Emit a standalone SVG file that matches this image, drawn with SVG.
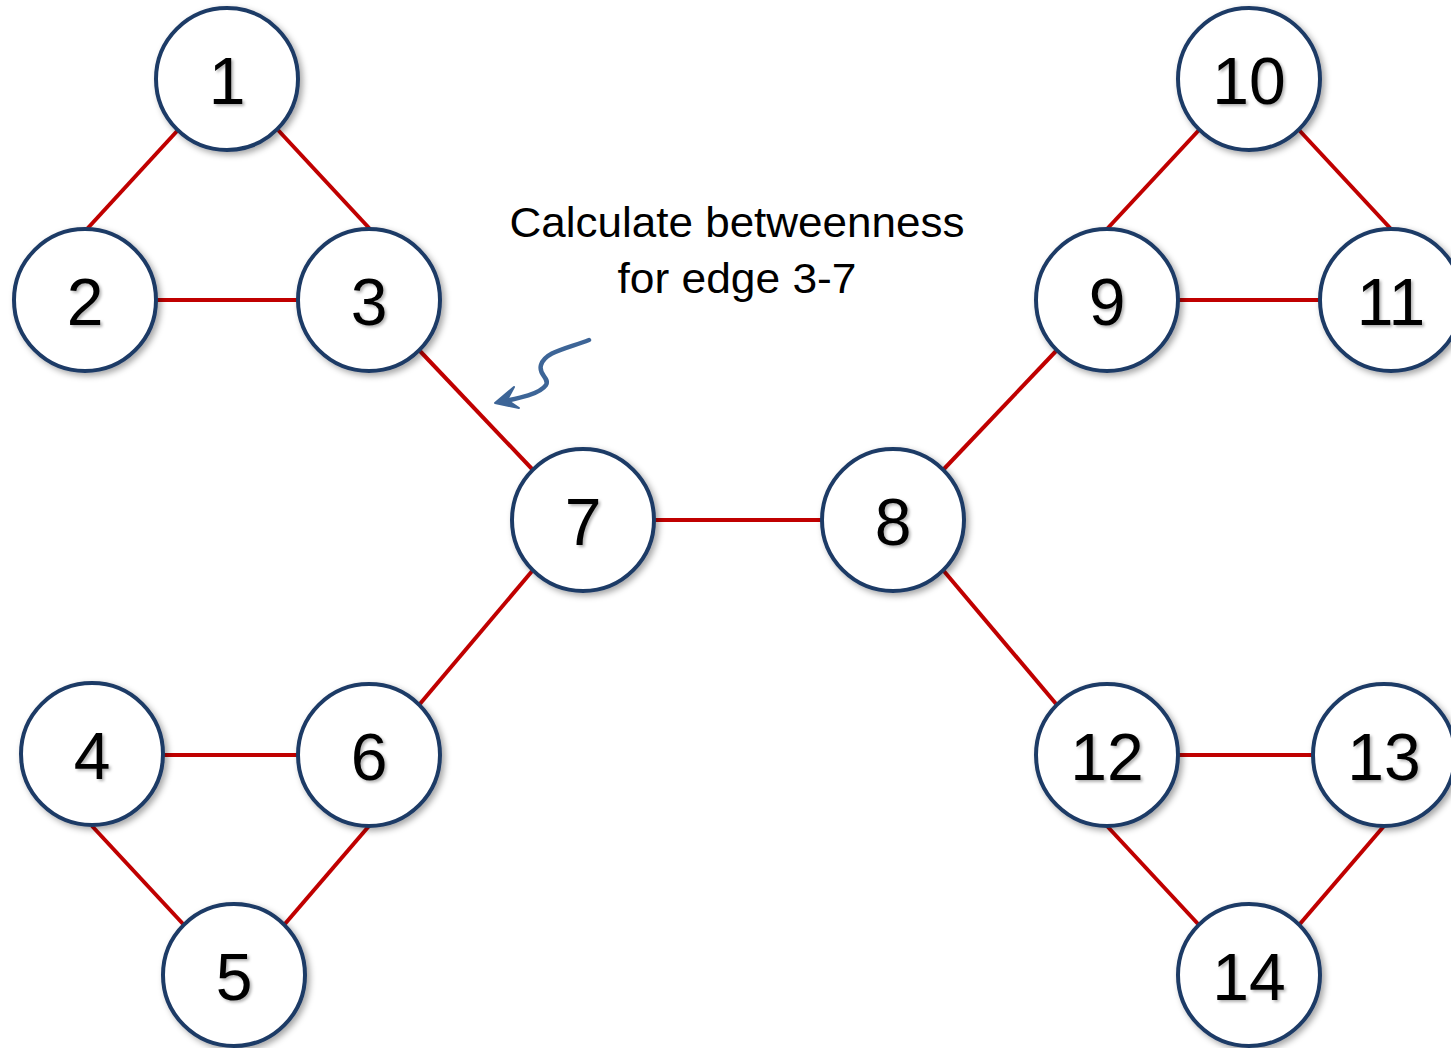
<svg xmlns="http://www.w3.org/2000/svg" width="1451" height="1048" viewBox="0 0 1451 1048">
<defs>
<style>
.edge{stroke:#C00000;stroke-width:4;fill:none}
.node circle{fill:#fff;stroke:#1F3B66;stroke-width:4;filter:url(#sh)}
.node text{font-family:"Liberation Sans",Arial,sans-serif;font-size:66px;fill:#000;text-anchor:middle;filter:url(#tsh)}
.label{font-family:"Liberation Sans",Arial,sans-serif;font-size:42px;fill:#000;text-anchor:middle}
</style>
<filter id="sh" x="-20%" y="-20%" width="150%" height="150%">
<feDropShadow dx="3" dy="3" stdDeviation="3" flood-color="#000" flood-opacity="0.35"/>
</filter>
<filter id="tsh" x="-20%" y="-20%" width="150%" height="150%">
<feDropShadow dx="2" dy="2" stdDeviation="1.5" flood-color="#000" flood-opacity="0.3"/>
</filter>
</defs>
<rect width="1451" height="1048" fill="#fff"/>
<g id="connectors">
<line class="edge" x1="178" y1="130" x2="87" y2="229"/>
<line class="edge" x1="278" y1="130" x2="370" y2="229"/>
<line class="edge" x1="156" y1="300" x2="298" y2="300"/>
<line class="edge" x1="419" y1="350" x2="533" y2="470"/>
<line class="edge" x1="654" y1="520" x2="822" y2="520"/>
<line class="edge" x1="533" y1="570" x2="419" y2="705"/>
<line class="edge" x1="163" y1="755" x2="298" y2="755"/>
<line class="edge" x1="92" y1="826" x2="184" y2="925"/>
<line class="edge" x1="369" y1="826" x2="284" y2="925"/>
<line class="edge" x1="943" y1="470" x2="1057" y2="350"/>
<line class="edge" x1="1107" y1="229" x2="1199" y2="130"/>
<line class="edge" x1="1299" y1="130" x2="1391" y2="229"/>
<line class="edge" x1="1178" y1="300" x2="1320" y2="300"/>
<line class="edge" x1="943" y1="570" x2="1057" y2="705"/>
<line class="edge" x1="1178" y1="755" x2="1313" y2="755"/>
<line class="edge" x1="1107" y1="826" x2="1199" y2="925"/>
<line class="edge" x1="1384" y1="826" x2="1299" y2="925"/>
</g>
<g id="n1" class="node"><circle cx="227" cy="79" r="71"/><text x="227" y="104">1</text></g>
<g id="n2" class="node"><circle cx="85" cy="300" r="71"/><text x="85" y="325">2</text></g>
<g id="n3" class="node"><circle cx="369" cy="300" r="71"/><text x="369" y="325">3</text></g>
<g id="n7" class="node"><circle cx="583" cy="520" r="71"/><text x="583" y="545">7</text></g>
<g id="n8" class="node"><circle cx="893" cy="520" r="71"/><text x="893" y="545">8</text></g>
<g id="n9" class="node"><circle cx="1107" cy="300" r="71"/><text x="1107" y="325">9</text></g>
<g id="n10" class="node"><circle cx="1249" cy="79" r="71"/><text x="1249" y="104">10</text></g>
<g id="n11" class="node"><circle cx="1391" cy="300" r="71"/><text x="1391" y="325">11</text></g>
<g id="n4" class="node"><circle cx="92" cy="754" r="71"/><text x="92" y="779">4</text></g>
<g id="n6" class="node"><circle cx="369" cy="755" r="71"/><text x="369" y="780">6</text></g>
<g id="n5" class="node"><circle cx="234" cy="975" r="71"/><text x="234" y="1000">5</text></g>
<g id="n12" class="node"><circle cx="1107" cy="755" r="71"/><text x="1107" y="780">12</text></g>
<g id="n13" class="node"><circle cx="1384" cy="755" r="71"/><text x="1384" y="780">13</text></g>
<g id="n14" class="node"><circle cx="1249" cy="975" r="71"/><text x="1249" y="1000">14</text></g>
<g id="annotation">
<text class="label" x="737" y="237" textLength="455" lengthAdjust="spacingAndGlyphs">Calculate betweenness</text>
<text class="label" x="737" y="293" textLength="239" lengthAdjust="spacingAndGlyphs">for edge 3-7</text>
<path d="M589,340 C565,349 545,352 541,365 C538,375 550,378 546,385 C540,394 520,398 500,402" fill="none" stroke="#3D6597" stroke-width="4.5" stroke-linecap="round"/>
<path d="M495,403 L514,387 L507,400 L519,408 Z" fill="#3D6597" stroke="#3D6597" stroke-width="2" stroke-linejoin="round"/>
</g>
</svg>
